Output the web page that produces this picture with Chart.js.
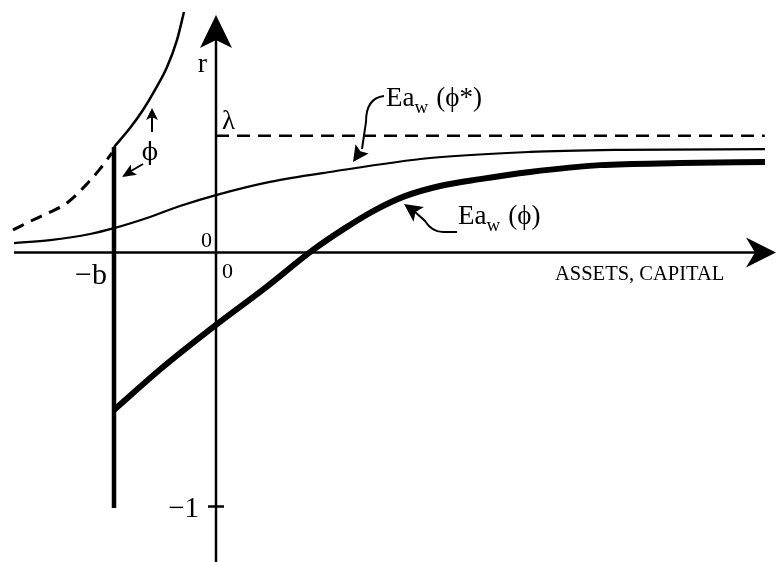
<!DOCTYPE html>
<html>
<head>
<meta charset="utf-8">
<script src="https://cdn.jsdelivr.net/npm/chart.js@4/dist/chart.umd.min.js"></script>
<style>
html,body{margin:0;padding:0;background:#fff;}
canvas{display:block;}
</style>
</head>
<body>
<canvas id="c" width="779" height="562"></canvas>
<script>
// ---- data (schematic units: -b = -1 on x, r = -1 tick on y) ----
const xTickValues = [-1, 0];
const xTickLabels = ['\u2212b', '0'];
const yTickValues = [0, -1];
const yTickLabels = ['0', '\u22121'];
const lambdaValue = 0.46;
const lambdaLineX = [0, 5.38];

// Ea_w(phi*) thin curve
const thinX = [-1.98, -1.627, -1.235, -1.0, -0.647, -0.353, 0, 0.529, 1.118, 2.098, 3.078, 3.961, 5.382];
const thinY = [0.037, 0.049, 0.073, 0.096, 0.140, 0.183, 0.226, 0.278, 0.317, 0.372, 0.396, 0.404, 0.407];

// Ea_w(phi) thick curve
const thickX = [-1.0, -0.520, 0, 0.480, 0.951, 1.265, 1.559, 1.853, 2.196, 2.588, 3.078, 3.765, 4.549, 5.382];
const thickY = [-0.620, -0.451, -0.285, -0.140, 0.010, 0.096, 0.167, 0.222, 0.262, 0.289, 0.317, 0.344, 0.352, 0.356];

// borrowing limit vertical segment at -b
const limitX = [-1.0, -1.0];
const limitY = [-1.006, 0.415];

// upper solid branch left of axis
const upperX = [-1.0, -0.843, -0.716, -0.598, -0.480, -0.382, -0.314];
const upperY = [0.415, 0.490, 0.561, 0.640, 0.730, 0.837, 0.947];

// dashed branch
const dashX = [-1.990, -1.794, -1.627, -1.461, -1.265, -1.137, -1.020];
const dashY = [0.089, 0.128, 0.159, 0.195, 0.270, 0.329, 0.392];

const xAxisRange = [-1.98, 5.49];
const yAxisRange = [-1.22, 0.935];

const labelR = 'r';
const labelLambda = '\u03bb';
const labelPhi = '\u03d5';
const labelAxis = 'ASSETS, CAPITAL';

function pts(xs, ys){ return xs.map((v,i)=>({x:v, y:ys[i]})); }

function arrowHead(ctx, tx, ty, ang, len, hw, notch){
  const c = Math.cos(ang), s = Math.sin(ang);
  const bx = tx - c*len, by = ty - s*len;
  const nx = tx - c*(len-notch), ny = ty - s*(len-notch);
  ctx.beginPath();
  ctx.moveTo(tx, ty);
  ctx.lineTo(bx - s*hw, by + c*hw);
  ctx.lineTo(nx, ny);
  ctx.lineTo(bx + s*hw, by - c*hw);
  ctx.closePath();
  ctx.fill();
}

function subLabel(ctx, x, y, main, sub, rest){
  ctx.textAlign = 'left';
  ctx.textBaseline = 'alphabetic';
  ctx.font = '27px "Liberation Serif", "DejaVu Serif", serif';
  ctx.fillText(main, x, y);
  let w = ctx.measureText(main).width;
  ctx.font = '19px "Liberation Serif", "DejaVu Serif", serif';
  ctx.fillText(sub, x + w, y + 7);
  w += ctx.measureText(sub).width + 8;
  ctx.font = '27px "Liberation Serif", "DejaVu Serif", serif';
  ctx.fillText(rest, x + w, y);
}

const overlay = {
  id: 'overlay',
  afterDatasetsDraw(chart){
    const {ctx, scales:{x, y}} = chart;
    const x0 = x.getPixelForValue(0), y0 = y.getPixelForValue(0);
    ctx.save();
    ctx.strokeStyle = '#000'; ctx.fillStyle = '#000';
    ctx.lineWidth = 2.5;
    // x axis
    const xs = x.getPixelForValue(xAxisRange[0]), xe = x.getPixelForValue(xAxisRange[1]);
    ctx.beginPath(); ctx.moveTo(xs, y0); ctx.lineTo(xe - 20, y0); ctx.stroke();
    arrowHead(ctx, xe, y0, 0, 30, 15, 9);
    // y axis
    const ys = y.getPixelForValue(yAxisRange[0]), yt = y.getPixelForValue(yAxisRange[1]);
    ctx.beginPath(); ctx.moveTo(x0, ys); ctx.lineTo(x0, yt + 20); ctx.stroke();
    arrowHead(ctx, x0, yt, -Math.PI/2, 33, 16, 8);
    // y tick at -1
    const ym1 = y.getPixelForValue(yTickValues[1]);
    ctx.lineWidth = 2.5;
    ctx.beginPath(); ctx.moveTo(x0 - 8, ym1); ctx.lineTo(x0 + 8, ym1); ctx.stroke();

    // labels
    ctx.textBaseline = 'alphabetic';
    ctx.font = '28px "Liberation Serif", "DejaVu Serif", serif';
    ctx.textAlign = 'right';
    ctx.fillText(labelR, x0 - 9, 72);
    ctx.textAlign = 'left';
    ctx.font = '27px "Liberation Serif", "DejaVu Serif", serif';
    ctx.fillText(labelLambda, x0 + 6, 129);
    // tick labels
    ctx.font = '22px "Liberation Serif", "DejaVu Serif", serif';
    ctx.textAlign = 'right';
    ctx.fillText(yTickLabels[0], x0 - 4, y0 - 6);
    ctx.textAlign = 'left';
    ctx.fillText(xTickLabels[1], x.getPixelForValue(xTickValues[1]) + 6, y0 + 25);
    ctx.font = '30px "Liberation Serif", "DejaVu Serif", serif';
    ctx.textAlign = 'right';
    ctx.fillText(xTickLabels[0], x.getPixelForValue(xTickValues[0]) - 7, y0 + 31);
    ctx.font = '29px "Liberation Serif", "DejaVu Serif", serif';
    ctx.fillText(yTickLabels[1], x0 - 17, ym1 + 10);
    // axis title
    ctx.font = '20.5px "Liberation Serif", "DejaVu Serif", serif';
    ctx.textAlign = 'left';
    ctx.fillText(labelAxis, 555, y0 + 27);
    // phi label and arrows
    ctx.font = '24px "DejaVu Serif", "Liberation Serif", serif';
    ctx.textAlign = 'center';
    ctx.fillText(labelPhi, 150, 160);
    ctx.lineWidth = 2;
    ctx.beginPath(); ctx.moveTo(152, 132); ctx.lineTo(152, 116); ctx.stroke();
    arrowHead(ctx, 152, 108, -Math.PI/2, 12, 6, 3);
    ctx.beginPath(); ctx.moveTo(143, 164); ctx.lineTo(131, 171); ctx.stroke();
    arrowHead(ctx, 122, 177, Math.atan2(177-164, 122-143), 14, 6, 3);

    // Ea_w(phi*) label and leader
    subLabel(ctx, 386, 106, 'Ea', 'w', '(\u03d5*)');
    ctx.lineWidth = 2;
    ctx.beginPath(); ctx.moveTo(384, 96); ctx.quadraticCurveTo(366, 98, 366, 122); ctx.lineTo(362, 149); ctx.stroke();
    arrowHead(ctx, 353, 162, Math.atan2(162-149, 353-362), 16, 8, 3);

    // Ea_w(phi) label and leader
    subLabel(ctx, 458, 224, 'Ea', 'w', '(\u03d5)');
    ctx.beginPath(); ctx.moveTo(457, 232); ctx.lineTo(443, 232); ctx.quadraticCurveTo(432, 232, 425, 221); ctx.lineTo(414, 211); ctx.stroke();
    arrowHead(ctx, 404, 204, Math.atan2(204-211, 404-414), 18, 9, 4);
    ctx.restore();
  }
};

new Chart(document.getElementById('c'), {
  type: 'scatter',
  data: {
    datasets: [
      {data: pts(lambdaLineX, [lambdaValue, lambdaValue]), showLine: true, borderColor: '#000', borderWidth: 2.5, borderDash: [13, 8], pointRadius: 0, tension: 0},
      {data: pts(thinX, thinY), showLine: true, borderColor: '#000', borderWidth: 2.2, pointRadius: 0, cubicInterpolationMode: 'monotone'},
      {data: pts(thickX, thickY), showLine: true, borderColor: '#000', borderWidth: 6, pointRadius: 0, cubicInterpolationMode: 'monotone'},
      {data: pts(limitX, limitY), showLine: true, borderColor: '#000', borderWidth: 4.5, pointRadius: 0, tension: 0},
      {data: pts(upperX, upperY), showLine: true, borderColor: '#000', borderWidth: 2.5, pointRadius: 0, cubicInterpolationMode: 'monotone'},
      {data: pts(dashX, dashY), showLine: true, borderColor: '#000', borderWidth: 3, borderDash: [12, 8], pointRadius: 0, cubicInterpolationMode: 'monotone'}
    ]
  },
  options: {
    responsive: false,
    animation: false,
    layout: {padding: 0},
    plugins: {legend: {display: false}, tooltip: {enabled: false}},
    scales: {
      x: {type: 'linear', min: -216/102, max: 563/102, display: false},
      y: {type: 'linear', min: -309.5/254, max: 252.5/254, display: false}
    }
  },
  plugins: [overlay]
});
</script>
</body>
</html>
